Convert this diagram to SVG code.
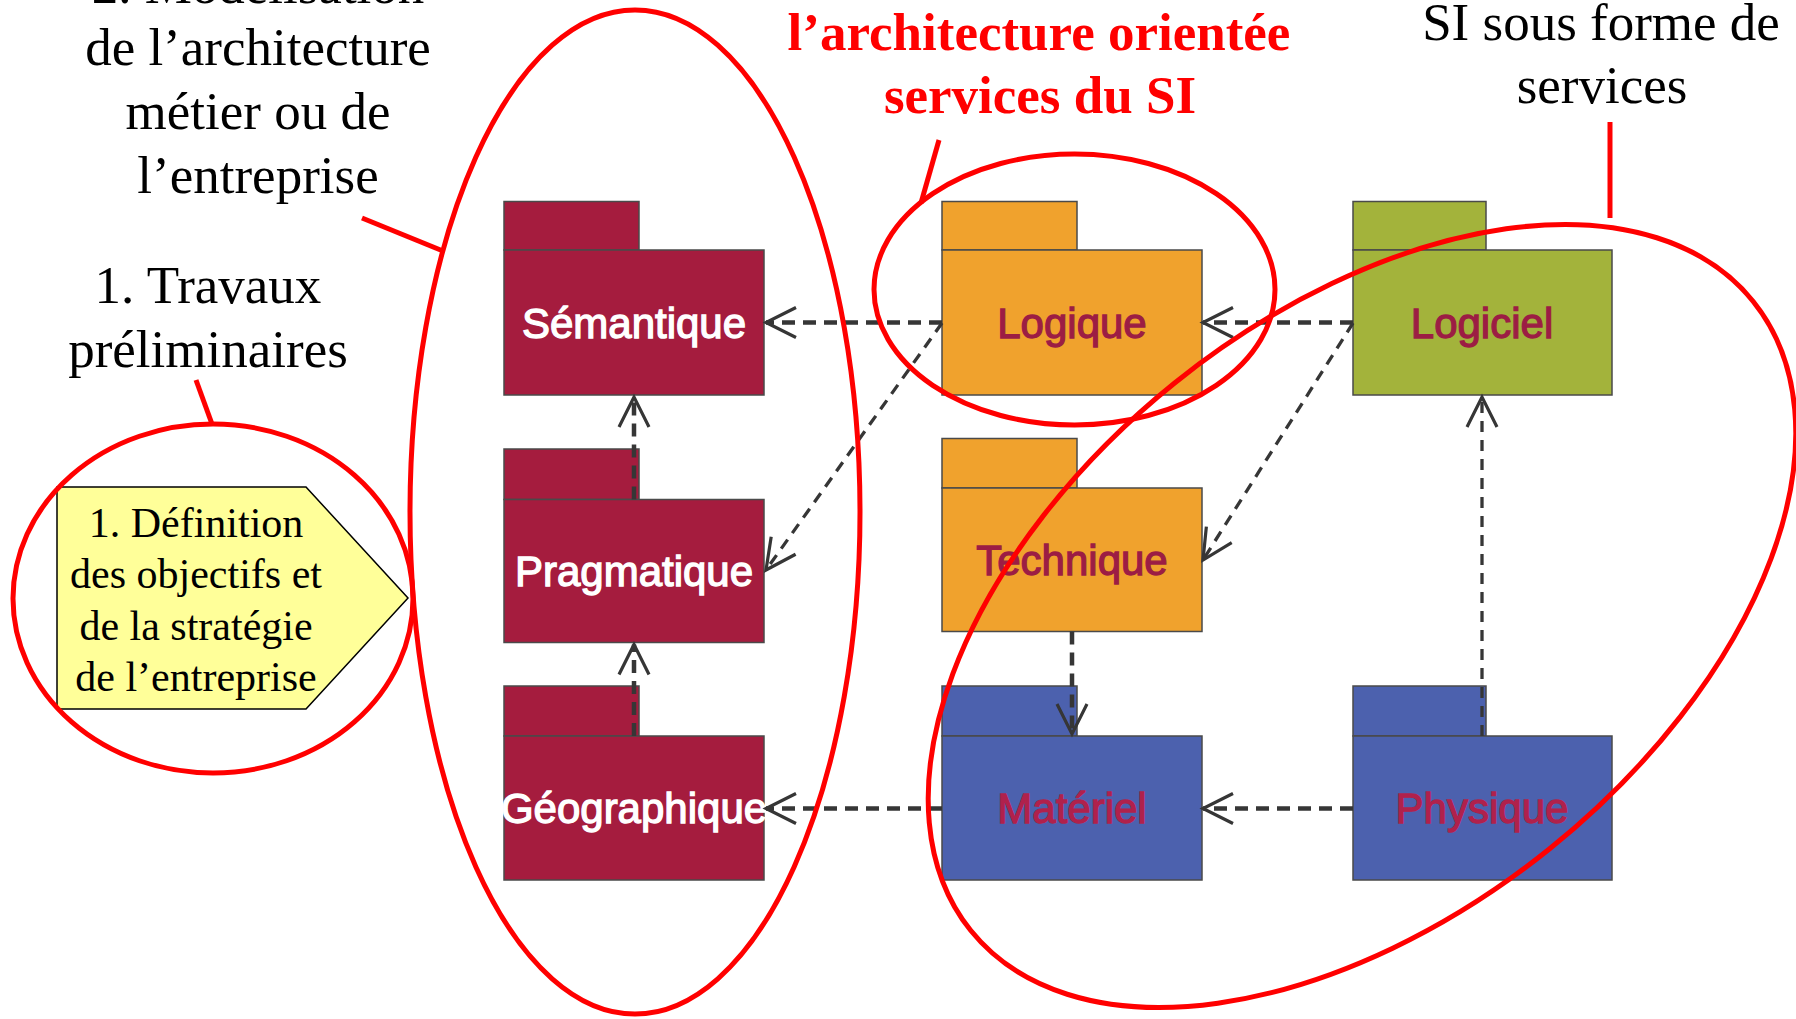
<svg xmlns="http://www.w3.org/2000/svg" width="1796" height="1019" viewBox="0 0 1796 1019">
  <defs>
    <style>
      .tab, .body { stroke: #4a4a4a; stroke-width: 1.5; }
      .crimson { fill: #A51C3E; }
      .orange { fill: #F0A22D; }
      .green { fill: #A3B33B; }
      .blue { fill: #4C61AE; }
      .plabel { font-family: "Liberation Sans", Arial, sans-serif; font-size: 42px; text-anchor: middle; stroke-width: 1.3; }
      .lw { fill: #FFFFFF; stroke: #FFFFFF; }
      .lr { fill: #9C1D44; stroke: #9C1D44; }
      .lb { fill: #B0214C; stroke: #B0214C; }
      .serif { font-family: "Liberation Serif", "Times New Roman", serif; font-size: 53px; text-anchor: middle; fill: #000000; }
      .redbold { font-family: "Liberation Serif", "Times New Roman", serif; font-size: 53px; font-weight: bold; text-anchor: middle; fill: #FF0000; }
      .note { font-family: "Liberation Serif", "Times New Roman", serif; font-size: 42px; text-anchor: middle; fill: #000000; }
      .dep { fill: none; stroke: #363636; stroke-width: 4.5; stroke-dasharray: 13 8; }
      .depthin { fill: none; stroke: #363636; stroke-width: 3.3; stroke-dasharray: 11 8; }
      .red { fill: none; stroke: #FF0000; stroke-width: 5; }
    </style>
    <marker id="open" viewBox="-32 -17 36 34" refX="0" refY="0" markerWidth="36" markerHeight="34" markerUnits="userSpaceOnUse" orient="auto">
      <path d="M -30 -15 L 0 0 L -30 15" fill="none" stroke="#363636" stroke-width="3.2"/>
    </marker>
  </defs>

  <!-- Packages -->
  <g id="semantique">
    <rect class="tab crimson" x="504" y="201.5" width="135" height="48.5"/>
    <rect class="body crimson" x="504" y="250" width="260" height="145"/>
    <text class="plabel lw" x="634" y="338">Sémantique</text>
  </g>
  <g id="pragmatique">
    <rect class="tab crimson" x="504" y="449" width="135" height="50.5"/>
    <rect class="body crimson" x="504" y="499.5" width="260" height="143"/>
    <text class="plabel lw" x="634" y="586">Pragmatique</text>
  </g>
  <g id="geographique">
    <rect class="tab crimson" x="504" y="686" width="135" height="50"/>
    <rect class="body crimson" x="504" y="736" width="260" height="144"/>
    <text class="plabel lw" x="634" y="823">Géographique</text>
  </g>
  <g id="logique">
    <rect class="tab orange" x="942" y="201.5" width="135" height="48.5"/>
    <rect class="body orange" x="942" y="250" width="260" height="145"/>
    <text class="plabel lr" x="1072" y="338">Logique</text>
  </g>
  <g id="technique">
    <rect class="tab orange" x="942" y="438.5" width="135" height="49.5"/>
    <rect class="body orange" x="942" y="488" width="260" height="143.5"/>
    <text class="plabel lr" x="1072" y="575">Technique</text>
  </g>
  <g id="materiel">
    <rect class="tab blue" x="942" y="686" width="135" height="50"/>
    <rect class="body blue" x="942" y="736" width="260" height="144"/>
    <text class="plabel lb" x="1072" y="823">Matériel</text>
  </g>
  <g id="logiciel">
    <rect class="tab green" x="1353" y="201.5" width="133" height="48.5"/>
    <rect class="body green" x="1353" y="250" width="259" height="145"/>
    <text class="plabel lr" x="1482" y="338">Logiciel</text>
  </g>
  <g id="physique">
    <rect class="tab blue" x="1353" y="686" width="133" height="50"/>
    <rect class="body blue" x="1353" y="736" width="259" height="144"/>
    <text class="plabel lb" x="1482" y="823">Physique</text>
  </g>

  <!-- Connectors -->
  <g id="connectors">
    <line class="dep" x1="942" y1="322.5" x2="766" y2="322.5" marker-end="url(#open)"/>
    <line class="dep" x1="1353" y1="322.5" x2="1203" y2="322.5" marker-end="url(#open)"/>
    <line class="depthin" x1="942" y1="323" x2="766" y2="570" marker-end="url(#open)"/>
    <line class="depthin" x1="1353" y1="323" x2="1203" y2="560" marker-end="url(#open)"/>
    <line class="dep" x1="634" y1="499.5" x2="634" y2="397" marker-end="url(#open)"/>
    <line class="dep" x1="634" y1="736" x2="634" y2="644.5" marker-end="url(#open)"/>
    <line class="dep" x1="1072" y1="631.5" x2="1072" y2="734" marker-end="url(#open)"/>
    <line class="depthin" x1="1482" y1="736" x2="1482" y2="397" marker-end="url(#open)"/>
    <line class="dep" x1="942" y1="808.5" x2="766" y2="808.5" marker-end="url(#open)"/>
    <line class="dep" x1="1353" y1="808.5" x2="1203" y2="808.5" marker-end="url(#open)"/>
  </g>

  <!-- Objective note -->
  <g id="objectifs">
    <polygon points="57,487 306,487 408,598 306,709 57,709" fill="#FFFF99" stroke="#000000" stroke-width="1.5"/>
    <text class="note" x="196" y="537">1. Définition</text>
    <text class="note" x="196" y="588">des objectifs et</text>
    <text class="note" x="196" y="640">de la stratégie</text>
    <text class="note" x="196" y="691">de l’entreprise</text>
  </g>

  <!-- Labels -->
  <g id="label-metier">
    <text class="serif" x="258" y="3">2. Modélisation</text>
    <text class="serif" x="258" y="65">de l’architecture</text>
    <text class="serif" x="258" y="129">métier ou de</text>
    <text class="serif" x="258" y="193">l’entreprise</text>
  </g>
  <g id="label-travaux">
    <text class="serif" x="208" y="303">1. Travaux</text>
    <text class="serif" x="208" y="367">préliminaires</text>
  </g>
  <g id="label-soa">
    <text class="redbold" x="1039" y="50">l’architecture orientée</text>
    <text class="redbold" x="1040" y="113">services du SI</text>
  </g>
  <g id="label-services">
    <text class="serif" x="1601" y="40">SI sous forme de</text>
    <text class="serif" x="1602" y="103">services</text>
  </g>

  <!-- Red annotations -->
  <g id="annotations">
    <ellipse class="red" cx="635" cy="512" rx="225" ry="502"/>
    <line class="red" x1="362" y1="218" x2="443" y2="251"/>
    <ellipse class="red" cx="213" cy="598.5" rx="200" ry="174.5"/>
    <line class="red" x1="196" y1="380" x2="212" y2="424"/>
    <ellipse class="red" cx="1074.5" cy="289.5" rx="200.5" ry="135.5"/>
    <line class="red" x1="939" y1="140" x2="921" y2="203"/>
    <ellipse class="red" cx="0" cy="0" rx="502" ry="299" transform="translate(1362,616) rotate(-38.8)"/>
    <line class="red" x1="1610" y1="122" x2="1610" y2="218"/>
  </g>
</svg>
